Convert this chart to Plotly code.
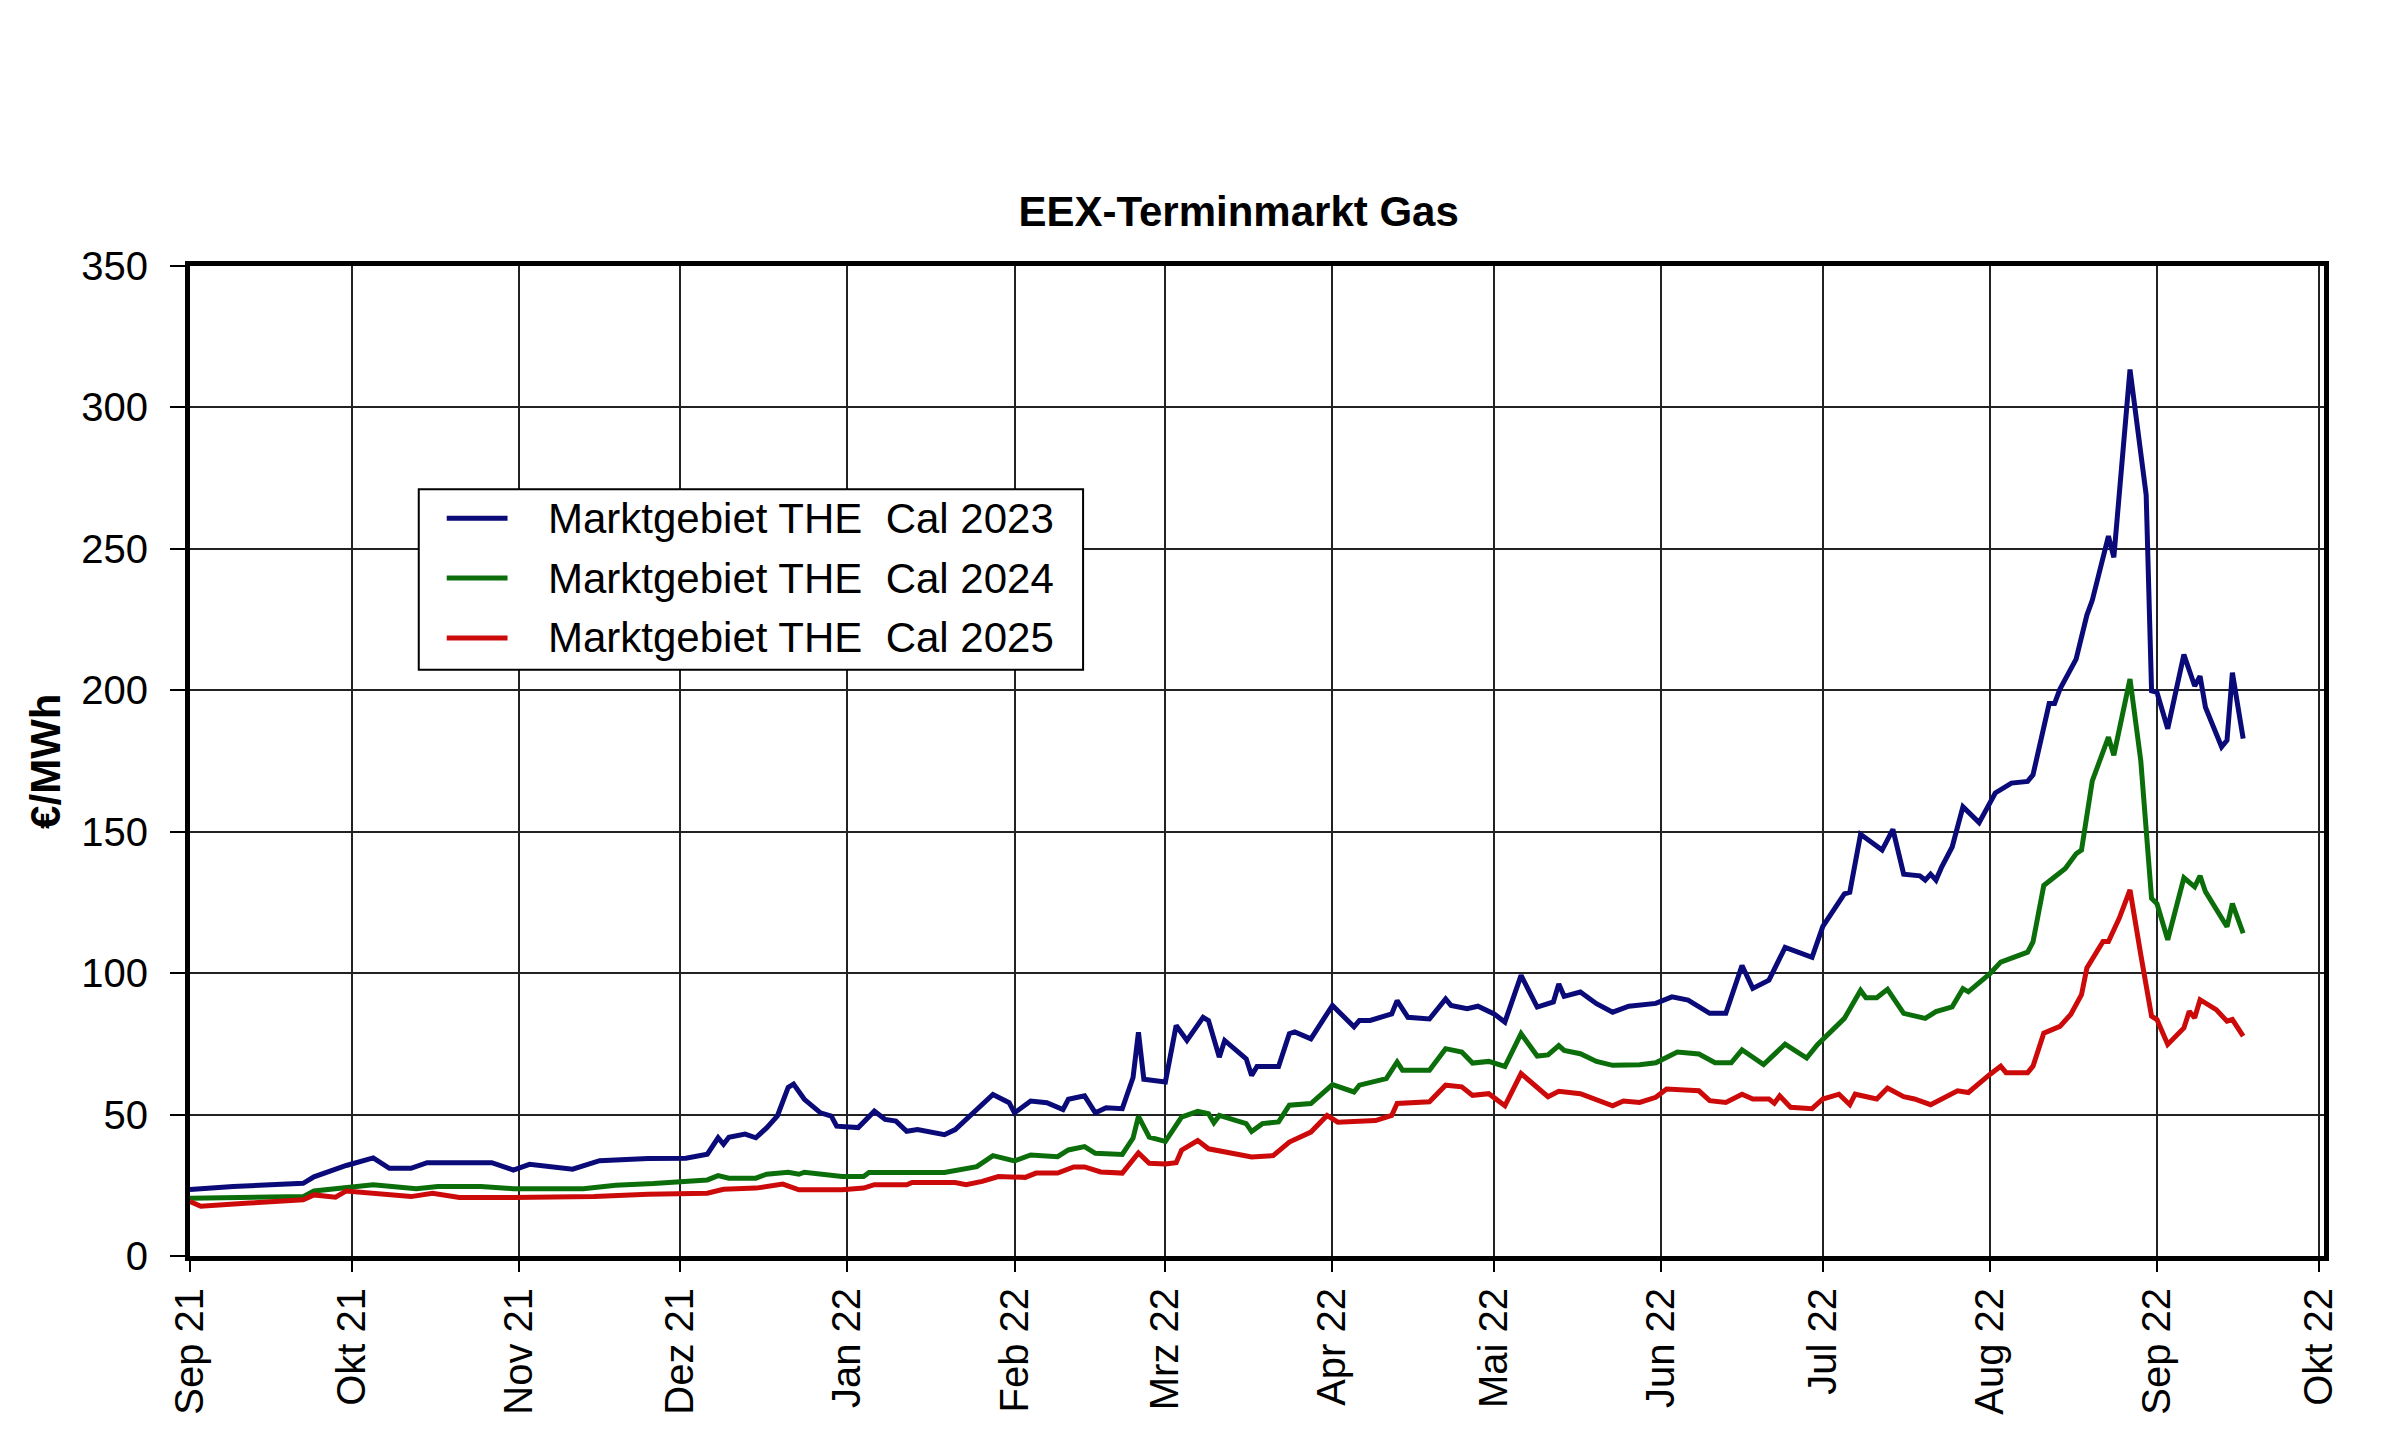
import plotly.graph_objects as go

# Cal 2023 (blau)
cal23_dates = [
    "2021-09-01", "2021-09-09", "2021-09-22", "2021-09-24", "2021-09-30", "2021-10-05",
    "2021-10-08", "2021-10-12", "2021-10-15", "2021-10-27", "2021-10-31", "2021-11-03",
    "2021-11-11", "2021-11-16", "2021-11-25", "2021-12-02", "2021-12-06", "2021-12-08",
    "2021-12-09", "2021-12-10", "2021-12-13", "2021-12-15", "2021-12-17", "2021-12-19",
    "2021-12-21", "2021-12-22", "2021-12-24", "2021-12-27", "2021-12-29", "2021-12-30",
    "2022-01-03", "2022-01-06", "2022-01-08", "2022-01-10", "2022-01-12", "2022-01-14",
    "2022-01-19", "2022-01-21", "2022-01-28", "2022-01-31", "2022-02-01", "2022-02-04",
    "2022-02-07", "2022-02-10", "2022-02-11", "2022-02-14", "2022-02-16", "2022-02-18",
    "2022-02-21", "2022-02-23", "2022-02-24", "2022-02-25", "2022-03-01", "2022-03-03",
    "2022-03-05", "2022-03-08", "2022-03-09", "2022-03-11", "2022-03-12", "2022-03-16",
    "2022-03-17", "2022-03-18", "2022-03-22", "2022-03-24", "2022-03-25", "2022-03-28",
    "2022-04-01", "2022-04-05", "2022-04-06", "2022-04-08", "2022-04-12", "2022-04-13",
    "2022-04-15", "2022-04-19", "2022-04-22", "2022-04-23", "2022-04-26", "2022-04-28",
    "2022-05-01", "2022-05-03", "2022-05-06", "2022-05-09", "2022-05-12", "2022-05-13",
    "2022-05-14", "2022-05-17", "2022-05-20", "2022-05-23", "2022-05-26", "2022-05-31",
    "2022-06-03", "2022-06-06", "2022-06-10", "2022-06-13", "2022-06-16", "2022-06-18",
    "2022-06-21", "2022-06-24", "2022-06-29", "2022-07-01", "2022-07-05", "2022-07-06",
    "2022-07-08", "2022-07-12", "2022-07-14", "2022-07-16", "2022-07-19", "2022-07-20",
    "2022-07-21", "2022-07-22", "2022-07-23", "2022-07-25", "2022-07-27", "2022-07-30",
    "2022-08-02", "2022-08-05", "2022-08-08", "2022-08-09", "2022-08-12", "2022-08-13",
    "2022-08-14", "2022-08-17", "2022-08-19", "2022-08-20", "2022-08-23", "2022-08-24",
    "2022-08-27", "2022-08-30", "2022-08-31", "2022-09-01", "2022-09-03", "2022-09-06",
    "2022-09-08", "2022-09-09", "2022-09-10", "2022-09-13", "2022-09-14", "2022-09-15",
    "2022-09-17",
]
cal23_values = [
    23.5, 24.6, 25.7, 28.0, 32.0, 34.7,
    31.0, 31.0, 33.0, 33.0, 30.4, 32.4,
    30.7, 33.7, 34.5, 34.6, 36.0, 41.8,
    39.5, 42.0, 43.1, 41.8, 45.3, 49.5,
    59.6, 60.8, 55.4, 50.6, 49.5, 45.9,
    45.4, 51.2, 48.3, 47.7, 44.1, 44.7,
    42.9, 44.7, 57.1, 54.2, 50.6, 54.8,
    54.2, 51.8, 55.4, 56.6, 50.6, 52.4,
    52.1, 63.1, 79.1, 62.5, 61.5, 81.5,
    76.2, 84.4, 83.2, 70.3, 76.2, 69.7,
    63.8, 67.0, 67.0, 78.6, 79.2, 76.8,
    88.6, 81.0, 83.3, 83.3, 85.6, 90.3,
    84.4, 83.8, 90.9, 88.6, 87.4, 88.3,
    85.6, 82.7, 99.2, 88.0, 89.8, 96.2,
    91.8, 93.3, 89.2, 86.2, 88.3, 89.3,
    91.6, 90.5, 85.8, 85.8, 102.7, 94.6,
    97.5, 109.1, 105.6, 116.5, 128.0, 128.6,
    149.1, 143.5, 150.8, 135.0, 134.4, 132.9,
    135.0, 132.9, 137.3, 144.6, 158.8, 153.2,
    163.7, 167.2, 167.8, 170.1, 195.3, 195.3,
    200.4, 211.0, 226.6, 231.8, 254.5, 247.0,
    313.4, 269.1, 199.8, 199.3, 186.4, 212.6,
    201.5, 205.0, 194.0, 180.0, 182.3, 206.2,
    182.9,
]

# Cal 2024 (gruen)
cal24_dates = [
    "2021-09-01", "2021-09-22", "2021-09-24", "2021-09-30", "2021-10-05", "2021-10-13",
    "2021-10-17", "2021-10-25", "2021-10-31", "2021-11-13", "2021-11-19", "2021-11-26",
    "2021-12-02", "2021-12-06", "2021-12-08", "2021-12-10", "2021-12-15", "2021-12-17",
    "2021-12-21", "2021-12-23", "2021-12-24", "2021-12-31", "2022-01-04", "2022-01-05",
    "2022-01-19", "2022-01-25", "2022-01-28", "2022-02-01", "2022-02-04", "2022-02-09",
    "2022-02-11", "2022-02-14", "2022-02-16", "2022-02-21", "2022-02-23", "2022-02-24",
    "2022-02-26", "2022-03-01", "2022-03-04", "2022-03-07", "2022-03-09", "2022-03-10",
    "2022-03-11", "2022-03-16", "2022-03-17", "2022-03-19", "2022-03-22", "2022-03-24",
    "2022-03-28", "2022-04-01", "2022-04-05", "2022-04-06", "2022-04-11", "2022-04-13",
    "2022-04-14", "2022-04-19", "2022-04-22", "2022-04-25", "2022-04-27", "2022-04-30",
    "2022-05-03", "2022-05-06", "2022-05-09", "2022-05-11", "2022-05-13", "2022-05-14",
    "2022-05-17", "2022-05-20", "2022-05-23", "2022-05-28", "2022-05-31", "2022-06-04",
    "2022-06-08", "2022-06-11", "2022-06-14", "2022-06-16", "2022-06-20", "2022-06-24",
    "2022-06-28", "2022-06-30", "2022-07-05", "2022-07-08", "2022-07-09", "2022-07-11",
    "2022-07-13", "2022-07-16", "2022-07-20", "2022-07-22", "2022-07-25", "2022-07-27",
    "2022-07-28", "2022-08-01", "2022-08-03", "2022-08-08", "2022-08-09", "2022-08-11",
    "2022-08-15", "2022-08-17", "2022-08-18", "2022-08-20", "2022-08-23", "2022-08-24",
    "2022-08-25", "2022-08-27", "2022-08-29", "2022-08-31", "2022-09-01", "2022-09-03",
    "2022-09-06", "2022-09-08", "2022-09-09", "2022-09-10", "2022-09-14", "2022-09-15",
    "2022-09-17",
]
cal24_values = [
    20.4, 21.0, 23.0, 24.0, 25.2, 23.8,
    24.6, 24.6, 23.8, 23.8, 25.0, 25.6,
    26.3, 26.9, 28.4, 27.5, 27.5, 28.9,
    29.6, 28.9, 29.6, 28.1, 28.1, 29.5,
    29.5, 31.6, 35.5, 33.6, 35.7, 35.1,
    37.5, 38.7, 36.3, 35.9, 41.7, 49.4,
    42.0, 40.5, 49.1, 51.1, 50.3, 47.1,
    49.7, 46.8, 44.0, 46.8, 47.4, 53.3,
    53.9, 60.6, 58.0, 60.4, 62.7, 68.6,
    65.7, 65.7, 73.3, 72.1, 68.2, 68.8,
    67.0, 78.6, 70.7, 71.1, 74.4, 72.7,
    71.5, 68.8, 67.4, 67.6, 68.3, 72.1,
    71.4, 68.3, 68.3, 72.9, 67.7, 74.9,
    70.0, 74.7, 84.0, 93.9, 91.3, 91.3,
    94.3, 85.8, 84.0, 86.4, 88.1, 94.5,
    93.4, 99.8, 103.9, 107.4, 111.0, 131.0,
    137.0, 142.2, 143.5, 168.0, 183.4, 177.0,
    186.0, 204.0, 175.1, 126.4, 124.6, 111.8,
    133.7, 130.5, 134.4, 128.8, 116.4, 124.6,
    114.1,
]

# Cal 2025 (rot)
cal25_dates = [
    "2021-09-01", "2021-09-03", "2021-09-12", "2021-09-22", "2021-09-24", "2021-09-28",
    "2021-09-30", "2021-10-04", "2021-10-12", "2021-10-16", "2021-10-21", "2021-10-31",
    "2021-11-15", "2021-11-25", "2021-12-06", "2021-12-09", "2021-12-15", "2021-12-20",
    "2021-12-23", "2021-12-31", "2022-01-04", "2022-01-06", "2022-01-12", "2022-01-13",
    "2022-01-21", "2022-01-23", "2022-01-26", "2022-01-29", "2022-02-03", "2022-02-05",
    "2022-02-09", "2022-02-12", "2022-02-14", "2022-02-17", "2022-02-21", "2022-02-24",
    "2022-02-26", "2022-03-01", "2022-03-03", "2022-03-04", "2022-03-07", "2022-03-09",
    "2022-03-13", "2022-03-17", "2022-03-21", "2022-03-24", "2022-03-28", "2022-03-31",
    "2022-04-02", "2022-04-09", "2022-04-12", "2022-04-13", "2022-04-19", "2022-04-22",
    "2022-04-25", "2022-04-27", "2022-04-30", "2022-05-03", "2022-05-06", "2022-05-11",
    "2022-05-13", "2022-05-17", "2022-05-23", "2022-05-25", "2022-05-28", "2022-05-31",
    "2022-06-02", "2022-06-08", "2022-06-10", "2022-06-13", "2022-06-16", "2022-06-18",
    "2022-06-21", "2022-06-22", "2022-06-23", "2022-06-25", "2022-06-29", "2022-07-01",
    "2022-07-04", "2022-07-06", "2022-07-07", "2022-07-11", "2022-07-13", "2022-07-16",
    "2022-07-18", "2022-07-21", "2022-07-26", "2022-07-28", "2022-08-01", "2022-08-03",
    "2022-08-04", "2022-08-08", "2022-08-09", "2022-08-11", "2022-08-14", "2022-08-16",
    "2022-08-18", "2022-08-19", "2022-08-22", "2022-08-23", "2022-08-25", "2022-08-27",
    "2022-08-29", "2022-08-31", "2022-09-01", "2022-09-03", "2022-09-06", "2022-09-07",
    "2022-09-08", "2022-09-09", "2022-09-12", "2022-09-14", "2022-09-15", "2022-09-17",
]
cal25_values = [
    19.3, 17.6, 18.7, 19.9, 21.6, 20.8,
    23.0, 22.2, 21.0, 22.2, 20.7, 20.7,
    21.0, 21.8, 22.2, 23.6, 24.0, 25.4,
    23.4, 23.4, 24.0, 25.2, 25.2, 26.0,
    26.0, 25.2, 26.4, 28.1, 27.8, 29.3,
    29.3, 31.5, 31.5, 29.7, 29.3, 36.4,
    32.8, 32.5, 33.0, 37.4, 40.8, 37.9,
    36.5, 35.0, 35.5, 40.3, 43.8, 49.7,
    47.3, 47.9, 49.7, 53.9, 54.5, 60.4,
    59.8, 56.8, 57.4, 53.1, 64.5, 56.3,
    58.2, 57.4, 53.1, 54.8, 54.3, 56.1,
    59.0, 58.4, 54.9, 54.3, 57.2, 55.5,
    55.5, 54.0, 56.6, 52.6, 52.1, 55.5,
    57.2, 53.5, 57.2, 55.5, 59.4, 56.3,
    55.5, 53.5, 58.4, 57.8, 64.2, 67.1,
    64.8, 64.8, 67.1, 78.8, 81.2, 85.4,
    92.4, 101.8, 111.2, 111.2, 119.4, 129.4,
    106.5, 84.8, 83.6, 74.8, 80.6, 86.5,
    84.2, 90.6, 87.1, 83.0, 83.6, 77.7,
]

series_names = [
    "Marktgebiet THE\u00a0 Cal 2023",
    "Marktgebiet THE\u00a0 Cal 2024",
    "Marktgebiet THE\u00a0 Cal 2025",
]
series_colors = ["#0a0a78", "#0b6e0b", "#cc0a0a"]

month_ticks = [
    "2021-09-01", "2021-10-01", "2021-11-01", "2021-12-01", "2022-01-01", "2022-02-01",
    "2022-03-01", "2022-04-01", "2022-05-01", "2022-06-01", "2022-07-01", "2022-08-01",
    "2022-09-01", "2022-10-01",
]
month_labels = [
    "Sep 21", "Okt 21", "Nov 21", "Dez 21", "Jan 22", "Feb 22", "Mrz 22", "Apr 22",
    "Mai 22", "Jun 22", "Jul 22", "Aug 22", "Sep 22", "Okt 22",
]
y_ticks = [0, 50, 100, 150, 200, 250, 300, 350]

FONT = "Liberation Sans, Arial, sans-serif"

fig = go.Figure()
for dates, values, name, color in zip(
    [cal23_dates, cal24_dates, cal25_dates],
    [cal23_values, cal24_values, cal25_values],
    series_names,
    series_colors,
):
    fig.add_trace(go.Scatter(x=dates, y=values, name=name, mode="lines",
                             line=dict(color=color, width=5), showlegend=False))

# page body adds 8px offset, so the figure is a bit smaller than the window
fig.update_layout(
    width=2384,
    height=1432,
    paper_bgcolor="white",
    plot_bgcolor="white",
    margin=dict(l=182, r=68, t=258, b=184),
    font=dict(family=FONT, size=40, color="black"),
    title=dict(text="<b>EEX-Terminmarkt Gas</b>", x=0.5162, xref="container",
               xanchor="center", y=0.8582, yref="container", yanchor="middle",
               font=dict(family=FONT, size=42, color="black")),
    showlegend=False,
)

fig.update_xaxes(
    type="date",
    range=["2021-09-01", "2022-10-02"],
    tickvals=month_ticks,
    ticktext=month_labels,
    tickangle=-90,
    ticks="outside",
    ticklen=11,
    tickwidth=2,
    tickcolor="black",
    showgrid=True,
    gridcolor="#222222",
    gridwidth=1.5,
    showline=True,
    linecolor="black",
    linewidth=5,
    mirror=True,
    zeroline=False,
    tickfont=dict(family=FONT, size=40, color="black"),
)
fig.update_yaxes(
    range=[0, 350],
    tickvals=y_ticks,
    ticks="outside",
    ticklen=15,
    tickwidth=2,
    tickcolor="black",
    ticklabelstandoff=14,
    showgrid=True,
    gridcolor="#222222",
    gridwidth=1.5,
    showline=True,
    linecolor="black",
    linewidth=5,
    mirror=True,
    zeroline=False,
    tickfont=dict(family=FONT, size=40, color="black"),
)

fig.add_annotation(text="<b>€/MWh</b>", xref="paper", yref="paper", x=-0.068, y=0.5,
                   xanchor="center", yanchor="middle", textangle=-90, showarrow=False,
                   font=dict(family=FONT, size=42, color="black"))

# Legende als Kasten mit Linien und Texten
fig.add_shape(type="rect", xref="paper", yref="paper", x0=0.1072, x1=0.4185,
              y0=0.5921, y1=0.7744, line=dict(color="black", width=2),
              fillcolor="white", layer="above")
legend_rows = [0.7452, 0.6848, 0.6243]
for row_y, name, color in zip(legend_rows, series_names, series_colors):
    fig.add_shape(type="line", xref="paper", yref="paper", x0=0.1203, x1=0.1488,
                  y0=row_y, y1=row_y, line=dict(color=color, width=5), layer="above")
    fig.add_annotation(text=name, xref="paper", yref="paper", x=0.1670, y=row_y,
                       xanchor="left", yanchor="middle", showarrow=False,
                       font=dict(family=FONT, size=42, color="black"))

fig.write_html("out.html")
